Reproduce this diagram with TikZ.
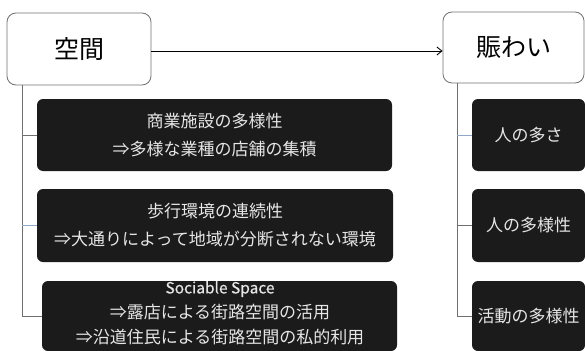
\documentclass[tikz,border=0pt]{standalone}
\usepackage{fontspec}
\newfontfamily\jp{Noto Sans CJK JP}
\newfontfamily\jpm[FakeBold=0.4]{Noto Sans CJK JP}
\usetikzlibrary{arrows.meta}
\definecolor{boxfill}{HTML}{1B1B1B}
\definecolor{boxtext}{HTML}{E6E6E6}
\definecolor{linegrey}{HTML}{707070}
\definecolor{lineblue}{HTML}{8FA8C8}
\tikzset{
  headbox/.style={draw=linegrey, line width=0.8pt, fill=white, rounded corners=9pt, inner sep=0pt, font=\jp\fontsize{25}{30}\selectfont},
  darkbox/.style={fill=boxfill, rounded corners=6pt, inner sep=0pt, text=boxtext, align=center},
  conn/.style={draw=linegrey, line width=0.8pt},
  connb/.style={draw=lineblue, line width=0.8pt},
  darktext/.style={text=boxtext, align=center, inner sep=0pt},
}
\begin{document}
\begin{tikzpicture}[x=1pt,y=-1pt]
\useasboundingbox (0,0) rectangle (585,350);
\clip (0,0) rectangle (585,350);
% head boxes
\node[headbox, minimum width=144pt, minimum height=72pt] (kukan) at (79,49) {空間};
\node[headbox, minimum width=141pt, minimum height=71pt] (nigi) at (513.5,47.5) {賑わい};
% coordinates for trunks
\coordinate (lt) at (22,85);
\coordinate (rt) at (457,83);
% left boxes
\node[darkbox, minimum width=355pt, minimum height=72pt, font=\jp\fontsize{17}{28}\selectfont] (b1) at (214.5,135) {商業施設の多様性\\⇒多様な業種の店舗の集積};
\node[darkbox, minimum width=356pt, minimum height=73pt, font=\jp\fontsize{17}{28}\selectfont] (b2) at (215,225.5) {歩行環境の連続性\\⇒大通りによって地域が分断されない環境};
\node[darkbox, minimum width=355pt, minimum height=70pt] (b3) at (219.5,316) {};
\node[darktext, font=\jp\fontsize{17}{25}\selectfont] (b3t) at (220,313) {{\jpm\fontsize{15.5}{25}\selectfont Sociable Space}\\⇒露店による街路空間の活用\\⇒沿道住民による街路空間の私的利用};
% right boxes
\node[darkbox, minimum width=113pt, minimum height=72pt, font=\jp\fontsize{17}{20}\selectfont] (r1) at (528.5,135) {人の多さ};
\node[darkbox, minimum width=113pt, minimum height=73pt, font=\jp\fontsize{17}{20}\selectfont] (r2) at (528.5,225.5) {人の多様性};
\node[darkbox, minimum width=113pt, minimum height=70pt, font=\jp\fontsize{17}{20}\selectfont] (r3) at (528.5,316) {活動の多様性};
% connectors
\draw[conn] (lt) -- (lt |- b3.west) -- (b3.west);
\draw[conn] (lt |- b1.west) -- (b1.west);
\draw[connb] (lt |- b2.west) -- (b2.west);
\draw[conn] (rt) -- (rt |- r3.west) -- (r3.west);
\draw[connb] (rt |- r1.west) -- (r1.west);
\draw[conn] (rt |- r2.west) -- (r2.west);
\draw[line width=0.9pt, -{Straight Barb[length=5pt,width=8pt]}] ([yshift=-2pt]kukan.east) -- ([yshift=-2pt]kukan.east -| nigi.west);
\end{tikzpicture}
\end{document}
